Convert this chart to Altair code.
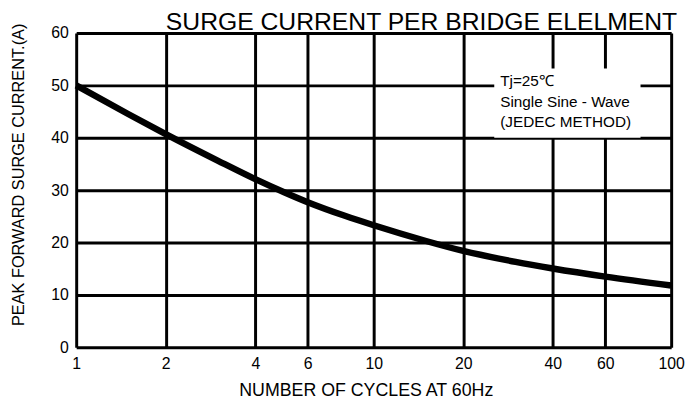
import altair as alt
import pandas as pd

# Curve data
cycles = [1, 1.5, 2, 3, 4, 5, 6, 8, 10, 15, 20, 30, 40, 60, 100]
current = [50, 44.5, 40.7, 35.6, 32.1, 29.6, 27.7, 25.1, 23.3, 20.3, 18.4, 16.3, 15.05, 13.5, 11.8]

x_ticks = [1, 2, 4, 6, 10, 20, 40, 60, 100]
y_ticks = [0, 10, 20, 30, 40, 50, 60]

title_text = "SURGE CURRENT PER BRIDGE ELELMENT"
x_title = "NUMBER OF CYCLES AT 60Hz"
y_title = "PEAK FORWARD SURGE CURRENT.(A)"
note_text = "Tj=25\u2103\nSingle Sine - Wave\n(JEDEC METHOD)"

df = pd.DataFrame({"cycles": cycles, "current": current})

W, H = 602, 318
LABEL_FONT = "Liberation Sans Narrow, Arial Narrow, Liberation Sans, Arial"
TEXT_FONT = "Liberation Sans, Arial"

xscale = alt.Scale(type="log", domain=[1, 100], nice=False)
yscale = alt.Scale(domain=[0, 60], nice=False)

line = alt.Chart(df).mark_line(color="black", strokeWidth=6.5, interpolate="monotone").encode(
    x=alt.X("cycles:Q", scale=xscale,
            axis=alt.Axis(values=x_ticks, title=x_title, grid=True, gridColor="black",
                          gridWidth=3, gridOpacity=1, ticks=False, tickSize=0, domain=False,
                          labelFlush=False, labelPadding=8, labelFontSize=16,
                          labelFont=LABEL_FONT, labelColor="black", labelBaseline="top",
                          titleFont=LABEL_FONT, titleFontSize=18, titleFontWeight="normal",
                          titleColor="black", titleX=W / 2 - 8, titleY=49,
                          titleBaseline="alphabetic", titleAlign="center", titleAnchor="middle")),
    y=alt.Y("current:Q", scale=yscale,
            axis=alt.Axis(values=y_ticks, title=y_title, grid=True, gridColor="black",
                          gridWidth=3, gridOpacity=1, ticks=False, tickSize=0, domain=False,
                          labelPadding=8, labelFontSize=16, labelFont=LABEL_FONT,
                          labelColor="black",
                          titleFont=TEXT_FONT, titleFontSize=16.5, titleFontWeight="normal",
                          titleColor="black", titleX=-50, titleY=143, titleAngle=270,
                          titleBaseline="bottom", titleAlign="center", titleAnchor="middle")),
)

box = alt.Chart(pd.DataFrame({"k": [0]})).mark_rect(color="white").encode(
    x=alt.value(423), x2=alt.value(571), y=alt.value(36), y2=alt.value(106)
)

notes = alt.Chart(pd.DataFrame({"t": [note_text]})).mark_text(
    align="left", baseline="alphabetic", font=TEXT_FONT, fontSize=15.5, color="black",
    lineBreak="\n", lineHeight=20.5
).encode(x=alt.value(429), y=alt.value(54), text="t:N")

title = alt.Chart(pd.DataFrame({"t": [title_text]})).mark_text(
    align="right", baseline="alphabetic", font=TEXT_FONT, fontSize=25, color="black"
).encode(x=alt.value(W + 6), y=alt.value(-3), text="t:N")

chart = alt.layer(line, box, notes, title).properties(
    width=W, height=H,
    autosize=alt.AutoSizeParams(type="none"),
    padding={"left": 69, "top": 23, "right": 14, "bottom": 50},
).configure_view(stroke="black", strokeWidth=4).configure(background="white")

chart.save("out.html", embed_options={"renderer": "svg", "actions": False})
